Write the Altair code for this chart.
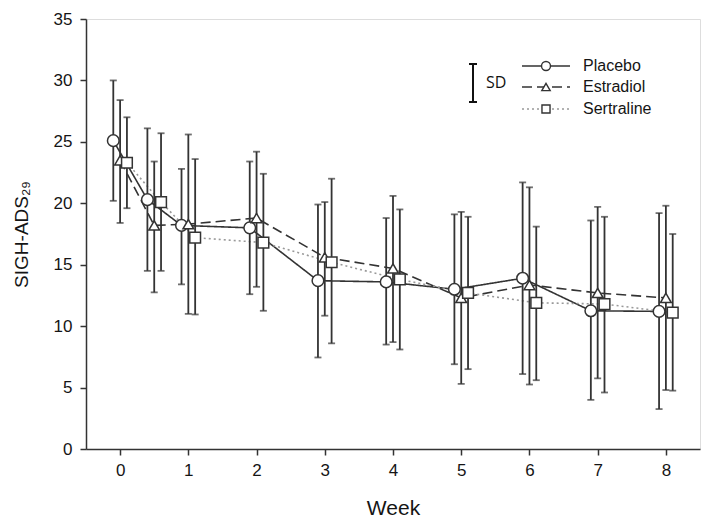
import altair as alt
import pandas as pd

weeks = [0, 0.5, 1, 2, 3, 4, 5, 6, 7, 8]
groups = ["Placebo", "Estradiol", "Sertraline"]
offsets = [-0.1, 0.0, 0.1]

placebo_mean = [25.1, 20.3, 18.2, 18.0, 13.7, 13.6, 13.0, 13.9, 11.25, 11.2]
placebo_hi = [30.0, 26.1, 22.8, 23.4, 19.9, 18.8, 19.1, 21.7, 18.6, 19.2]
placebo_lo = [20.2, 14.5, 13.4, 12.6, 7.45, 8.5, 6.9, 6.1, 4.0, 3.25]

estradiol_mean = [23.5, 18.2, 18.3, 18.8, 15.6, 14.7, 12.3, 13.35, 12.7, 12.3]
estradiol_hi = [28.4, 23.4, 25.6, 24.2, 20.1, 20.6, 19.3, 21.3, 19.7, 19.8]
estradiol_lo = [18.4, 12.75, 11.0, 13.2, 10.85, 8.7, 5.3, 5.25, 5.75, 4.8]

sertraline_mean = [23.3, 20.1, 17.2, 16.8, 15.2, 13.8, 12.7, 11.9, 11.8, 11.1]
sertraline_hi = [27.0, 25.7, 23.6, 22.4, 22.0, 19.5, 18.9, 18.1, 18.9, 17.5]
sertraline_lo = [19.6, 14.5, 10.95, 11.25, 8.6, 8.1, 6.5, 5.6, 4.6, 4.75]

x_ticks = [0, 1, 2, 3, 4, 5, 6, 7, 8]
y_ticks = [0, 5, 10, 15, 20, 25, 30, 35]

series = {
    "Placebo": (placebo_mean, placebo_lo, placebo_hi),
    "Estradiol": (estradiol_mean, estradiol_lo, estradiol_hi),
    "Sertraline": (sertraline_mean, sertraline_lo, sertraline_hi),
}
styles = {
    "Placebo": dict(color="#333333", dash=[1, 0], shape="circle", size=135),
    "Estradiol": dict(color="#333333", dash=[10, 5], shape="triangle-up", size=115),
    "Sertraline": dict(color="#999999", dash=[2, 3], shape="square", size=115),
}

FONT = "Liberation Sans"
DARK = "#333333"
TXT = "#151515"

xscale = alt.Scale(domain=[-0.5, 8.5], nice=False, zero=False)
yscale = alt.Scale(domain=[0, 35], nice=False)

xaxis = alt.Axis(values=x_ticks, format="d", title="Week", grid=False, tickSize=6,
                 labelPadding=7, titlePadding=19, labelFontSize=17, titleFontSize=21,
                 labelFont=FONT, titleFont=FONT, titleFontWeight="normal",
                 labelColor=TXT, titleColor=TXT, domainColor=DARK, tickColor=DARK,
                 domainWidth=1.5, tickWidth=1.5, labelFlush=False)
yaxis = alt.Axis(values=y_ticks, format="d", title="SIGH-ADS\u2082\u2089", grid=False,
                 tickSize=6, labelPadding=8, titlePadding=22, labelFontSize=17,
                 titleFontSize=19, labelFont=FONT, titleFont=FONT,
                 titleFontWeight="normal", labelColor=TXT, titleColor=TXT,
                 domainColor=DARK, tickColor=DARK, domainWidth=1.5, tickWidth=1.5,
                 labelFlush=False)

layers = []
point_layers = []
bar_layers = []
for g, off in zip(groups, offsets):
    m, lo, hi = series[g]
    df = pd.DataFrame({
        "pos": [w + off for w in weeks],
        "mean": m, "lo": lo, "hi": hi, "group": g,
    })
    st = styles[g]
    base = alt.Chart(df)
    line = base.mark_line(color=st["color"], strokeDash=st["dash"], strokeWidth=1.6).encode(
        x=alt.X("pos:Q", scale=xscale, axis=xaxis),
        y=alt.Y("mean:Q", scale=yscale, axis=yaxis),
    )
    layers.append(line)
    rule = base.mark_rule(color=DARK, strokeWidth=1.8).encode(
        x="pos:Q", y="lo:Q", y2="hi:Q")
    cap_lo = base.mark_tick(color=DARK, orient="horizontal", size=7, thickness=1.8).encode(
        x="pos:Q", y="lo:Q")
    cap_hi = base.mark_tick(color=DARK, orient="horizontal", size=7, thickness=1.8).encode(
        x="pos:Q", y="hi:Q")
    bar_layers += [rule, cap_lo, cap_hi]
    pts = base.mark_point(shape=st["shape"], size=st["size"], filled=True, fill="white",
                          stroke=DARK, strokeWidth=1.5, opacity=1).encode(
        x="pos:Q", y="mean:Q")
    point_layers.append(pts)

# Manual legend (annotation, pixel positions inside plot area)
legend_layers = []
anchor = pd.DataFrame({"a": [0]})
ab = alt.Chart(anchor)
legend_layers.append(ab.mark_rule(color="#111111", strokeWidth=2).encode(
    x=alt.value(387), y=alt.value(45), y2=alt.value(83)))
legend_layers.append(ab.mark_rule(color="#111111", strokeWidth=2).encode(
    x=alt.value(383), x2=alt.value(391), y=alt.value(45)))
legend_layers.append(ab.mark_rule(color="#111111", strokeWidth=2).encode(
    x=alt.value(383), x2=alt.value(391), y=alt.value(83)))
legend_layers.append(ab.mark_text(text="SD", font="Open Sans", fontSize=16, align="left",
                                  baseline="middle", color="#111111").encode(
    x=alt.value(400), y=alt.value(64)))
row_y = [47, 68, 90]
legend_sizes = {"Placebo": 80, "Estradiol": 70, "Sertraline": 65}
for g, yy in zip(groups, row_y):
    st = styles[g]
    legend_layers.append(ab.mark_rule(color=st["color"], strokeDash=st["dash"],
                                      strokeWidth=1.6).encode(
        x=alt.value(436), x2=alt.value(484), y=alt.value(yy)))
    legend_layers.append(ab.mark_point(shape=st["shape"], size=legend_sizes[g], filled=True,
                                       fill="white", stroke=DARK, strokeWidth=1.4,
                                       opacity=1).encode(
        x=alt.value(460), y=alt.value(yy)))
    legend_layers.append(ab.mark_text(text=g, font=FONT, fontSize=16, align="left",
                                      baseline="middle", color=TXT).encode(
        x=alt.value(497), y=alt.value(yy)))

chart = alt.layer(*layers, *bar_layers, *point_layers, *legend_layers).properties(
    width=614, height=430,
    autosize=alt.AutoSizeParams(type="none"),
    padding={"left": 78, "top": 11, "right": 6, "bottom": 70},
).configure_view(stroke=DARK, strokeWidth=1.5).configure(background="white")

chart.save("out.html", embed_options={"renderer": "svg", "actions": False})
